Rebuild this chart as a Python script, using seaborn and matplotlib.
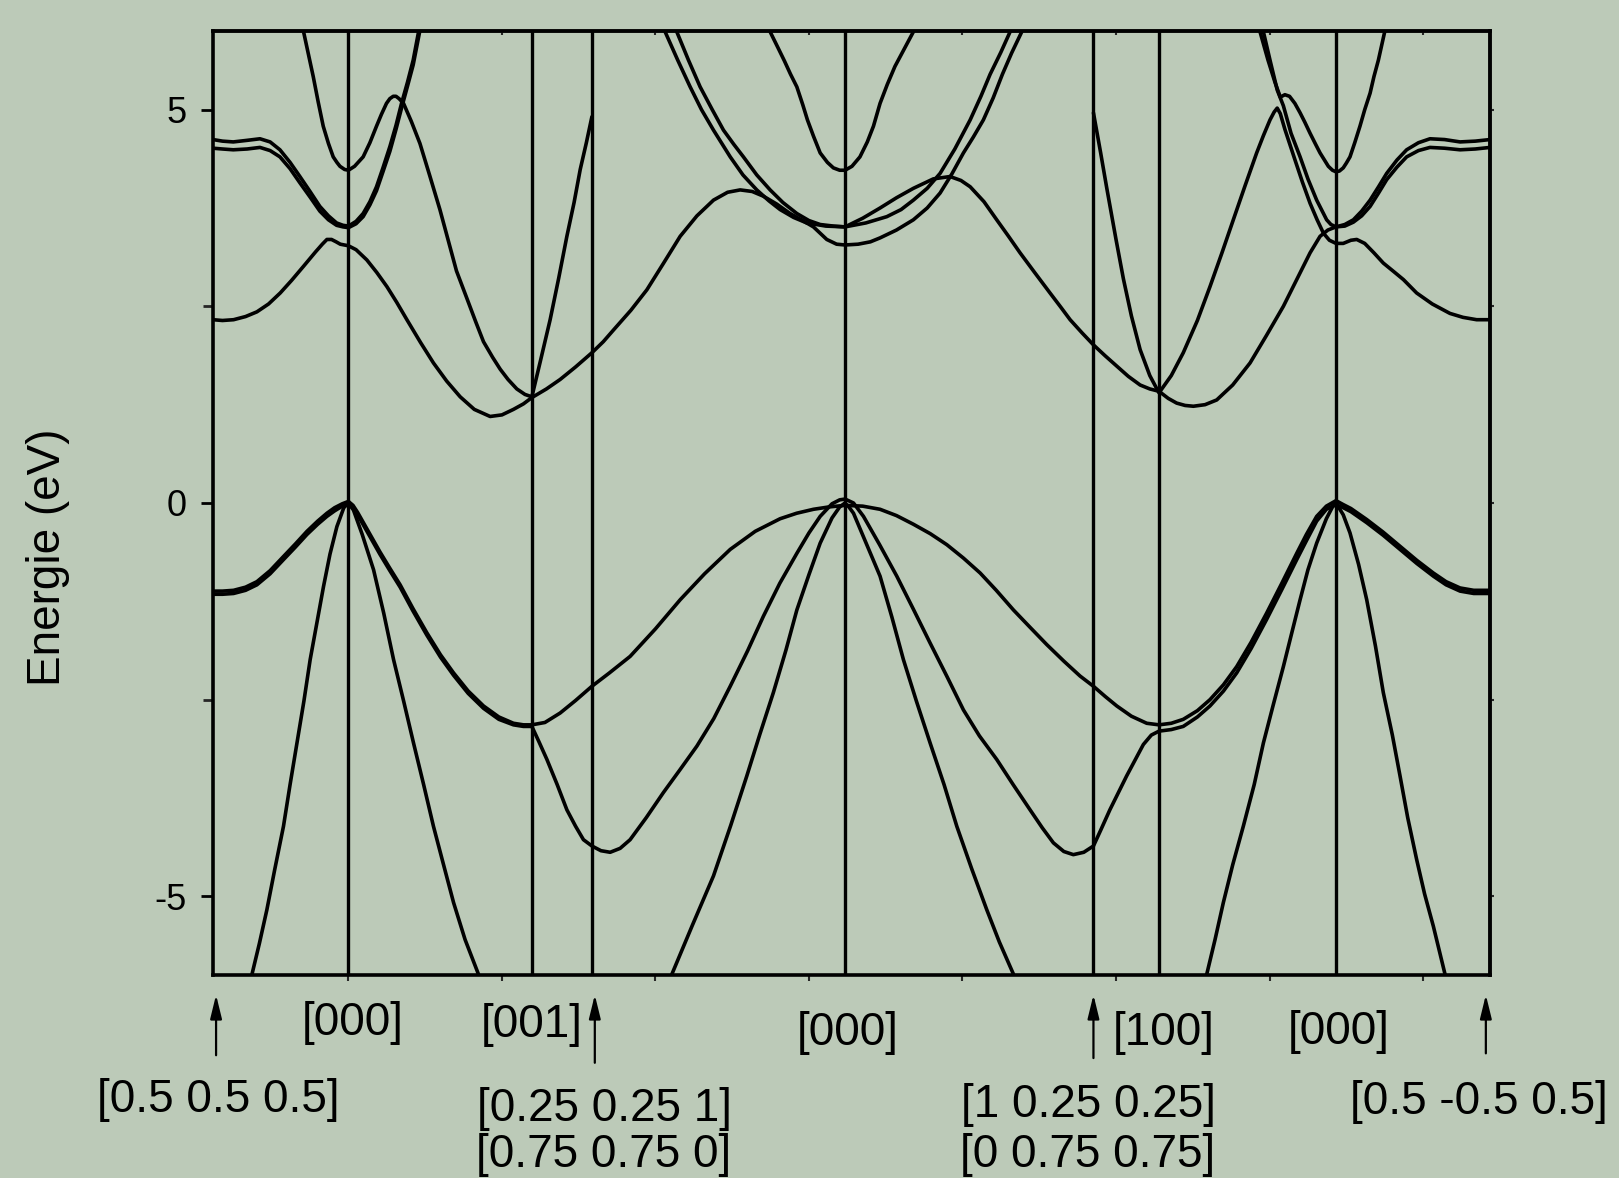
import pandas as pd
import matplotlib
matplotlib.use('Agg')
import matplotlib.pyplot as plt
import seaborn as sns

# positions of the symmetry points along the k path
sym_k = [-0.882, 0.0, 1.195, 1.586, 3.235, 4.853, 5.28, 6.433, 7.436]
y_ticks = [-5, 0, 5]
y_minor = [-2.5, 2.5]
x_ticks = [0, 1, 2, 3, 4, 5, 6, 7]

# valence bands (k, E in eV)
v_upper = [(-0.882, -1.12), (-0.82, -1.12), (-0.748, -1.11), (-0.67, -1.07), (-0.596, -1.00),
           (-0.51, -0.86), (-0.423, -0.68), (-0.345, -0.52), (-0.270, -0.36), (-0.20, -0.23),
           (-0.140, -0.13), (-0.09, -0.06), (-0.04, -0.01), (0.0, 0.02),
           (0.03, -0.03), (0.06, -0.12), (0.118, -0.32), (0.205, -0.62), (0.27, -0.83), (0.337, -1.04),
           (0.42, -1.34), (0.511, -1.65), (0.60, -1.93), (0.685, -2.16), (0.78, -2.39), (0.880, -2.58),
           (0.98, -2.72), (1.075, -2.80), (1.14, -2.82), (1.195, -2.82),
           (1.28, -2.79), (1.379, -2.67), (1.48, -2.51), (1.586, -2.33),
           (1.70, -2.16), (1.835, -1.95), (2.00, -1.60), (2.161, -1.23), (2.32, -0.90), (2.487, -0.59),
           (2.65, -0.36), (2.812, -0.20), (2.92, -0.13), (3.029, -0.08), (3.13, -0.05), (3.235, -0.03),
           (3.35, -0.04), (3.463, -0.08), (3.57, -0.16), (3.680, -0.27), (3.79, -0.39), (3.898, -0.53),
           (4.006, -0.70), (4.115, -0.89), (4.22, -1.11), (4.332, -1.36), (4.44, -1.58), (4.549, -1.80),
           (4.66, -2.01), (4.766, -2.20), (4.853, -2.33),
           (4.93, -2.46), (5.005, -2.58), (5.10, -2.71), (5.200, -2.80), (5.28, -2.82),
           (5.36, -2.80), (5.438, -2.75), (5.53, -2.64), (5.612, -2.50), (5.70, -2.31), (5.786, -2.08),
           (5.88, -1.77), (5.981, -1.40), (6.08, -1.02), (6.177, -0.64), (6.24, -0.40), (6.307, -0.17),
           (6.37, -0.04), (6.433, 0.03),
           (6.48, -0.02), (6.53, -0.07), (6.633, -0.21), (6.74, -0.37), (6.850, -0.55), (6.96, -0.73),
           (7.067, -0.89), (7.15, -1.00), (7.241, -1.08), (7.33, -1.11), (7.436, -1.11)]
v_lower = [(-0.882, -1.16), (-0.82, -1.16), (-0.748, -1.15), (-0.67, -1.11), (-0.596, -1.04),
           (-0.51, -0.90), (-0.423, -0.72), (-0.345, -0.56), (-0.270, -0.40), (-0.20, -0.27),
           (-0.140, -0.17), (-0.09, -0.10), (-0.04, -0.04), (0.0, -0.02),
           (0.03, -0.06), (0.06, -0.15), (0.118, -0.35), (0.205, -0.65), (0.27, -0.86), (0.337, -1.07),
           (0.42, -1.37), (0.511, -1.68), (0.60, -1.96), (0.685, -2.19), (0.78, -2.42), (0.880, -2.61),
           (0.98, -2.75), (1.075, -2.82), (1.14, -2.84), (1.195, -2.84),
           (1.24, -3.03), (1.293, -3.26), (1.36, -3.58), (1.423, -3.90), (1.48, -4.11), (1.531, -4.28),
           (1.586, -4.36),
           (1.645, -4.42), (1.705, -4.44), (1.77, -4.39), (1.835, -4.28), (1.94, -4.00), (2.052, -3.68),
           (2.16, -3.39), (2.270, -3.09), (2.38, -2.74), (2.487, -2.33), (2.60, -1.88), (2.703, -1.44),
           (2.81, -1.02), (2.921, -0.64), (3.00, -0.38), (3.073, -0.17), (3.150, -0.01), (3.20, 0.04),
           (3.235, 0.05),
           (3.29, 0.0), (3.355, -0.17), (3.46, -0.53), (3.572, -0.93), (3.68, -1.35), (3.789, -1.78),
           (3.90, -2.21), (4.006, -2.63), (4.11, -2.96), (4.223, -3.26), (4.33, -3.58), (4.440, -3.90),
           (4.52, -4.13), (4.592, -4.32), (4.66, -4.43), (4.722, -4.47), (4.79, -4.44), (4.853, -4.36),
           (4.90, -4.16), (4.960, -3.90), (5.069, -3.47), (5.178, -3.07), (5.23, -2.95), (5.28, -2.90),
           (5.36, -2.88), (5.438, -2.84), (5.53, -2.72), (5.612, -2.58), (5.70, -2.39), (5.786, -2.16),
           (5.88, -1.85), (5.981, -1.48), (6.08, -1.10), (6.177, -0.72), (6.24, -0.48), (6.307, -0.23),
           (6.37, -0.08), (6.433, -0.02),
           (6.48, -0.06), (6.53, -0.11), (6.633, -0.25), (6.74, -0.41), (6.850, -0.59), (6.96, -0.77),
           (7.067, -0.93), (7.15, -1.04), (7.241, -1.12), (7.33, -1.15), (7.436, -1.15)]
v_deep_1 = [(-0.628, -5.99), (-0.58, -5.60), (-0.531, -5.17), (-0.48, -4.66), (-0.423, -4.11),
            (-0.38, -3.58), (-0.335, -3.05), (-0.29, -2.52), (-0.249, -1.99), (-0.205, -1.52),
            (-0.162, -1.06), (-0.12, -0.65), (-0.075, -0.30), (-0.03, -0.06), (0.0, 0.0)]
v_deep_2 = [(0.0, 0.0), (0.033, -0.09), (0.09, -0.40), (0.164, -0.85), (0.23, -1.40), (0.294, -1.99),
            (0.36, -2.52), (0.424, -3.05), (0.49, -3.58), (0.554, -4.11), (0.62, -4.60), (0.685, -5.08),
            (0.76, -5.55), (0.847, -5.99)]
v_deep_3 = [(2.107, -5.99), (2.24, -5.37), (2.378, -4.74), (2.49, -4.10), (2.595, -3.47), (2.68, -2.94),
            (2.768, -2.41), (2.85, -1.87), (2.921, -1.36), (3.00, -0.91), (3.073, -0.51), (3.15, -0.19),
            (3.20, -0.05), (3.235, 0.0)]
v_deep_4 = [(3.235, 0.0), (3.26, -0.05), (3.290, -0.13), (3.37, -0.50), (3.463, -0.93), (3.54, -1.45),
            (3.615, -1.99), (3.70, -2.52), (3.789, -3.05), (3.88, -3.58), (3.963, -4.11), (4.06, -4.65),
            (4.158, -5.17), (4.24, -5.58), (4.332, -5.99)]
v_deep_5 = [(5.591, -5.99), (5.645, -5.55), (5.699, -5.08), (5.76, -4.60), (5.829, -4.11), (5.90, -3.58),
            (5.960, -3.05), (6.025, -2.56), (6.090, -2.08), (6.145, -1.65), (6.199, -1.23), (6.25, -0.85),
            (6.307, -0.51), (6.37, -0.20), (6.41, -0.05), (6.433, 0.0)]
v_deep_6 = [(6.433, 0.0), (6.48, -0.15), (6.524, -0.38), (6.58, -0.78), (6.633, -1.23), (6.69, -1.82),
            (6.741, -2.41), (6.80, -2.95), (6.850, -3.47), (6.90, -4.00), (6.958, -4.53), (7.01, -4.97),
            (7.067, -5.38), (7.143, -5.99)]

# conduction bands
c_1 = [(-0.882, 2.33), (-0.82, 2.32), (-0.748, 2.33), (-0.67, 2.37), (-0.596, 2.43), (-0.52, 2.53),
       (-0.444, 2.67), (-0.37, 2.83), (-0.292, 3.01), (-0.215, 3.19), (-0.170, 3.29), (-0.140, 3.35),
       (-0.11, 3.35), (-0.08, 3.32), (-0.053, 3.29), (0.0, 3.27),
       (0.05, 3.22), (0.120, 3.09), (0.185, 2.93), (0.251, 2.75), (0.315, 2.55), (0.381, 2.33),
       (0.47, 2.04), (0.554, 1.78), (0.64, 1.55), (0.728, 1.35), (0.82, 1.19), (0.923, 1.10),
       (1.00, 1.12), (1.075, 1.19), (1.14, 1.26), (1.195, 1.34),
       (1.29, 1.45), (1.379, 1.57), (1.48, 1.73), (1.586, 1.91),
       (1.66, 2.05), (1.727, 2.20), (1.84, 2.45), (1.944, 2.71), (2.05, 3.04), (2.161, 3.39),
       (2.27, 3.65), (2.378, 3.85), (2.47, 3.95), (2.552, 3.98), (2.63, 3.96), (2.703, 3.90),
       (2.79, 3.80), (2.877, 3.68), (2.95, 3.60), (3.029, 3.51), (3.116, 3.35), (3.18, 3.29),
       (3.235, 3.28),
       (3.32, 3.29), (3.40, 3.32), (3.463, 3.37), (3.57, 3.47), (3.680, 3.60), (3.77, 3.75),
       (3.854, 3.94), (3.93, 4.18), (4.006, 4.45), (4.07, 4.65), (4.136, 4.87), (4.20, 5.15),
       (4.26, 5.45), (4.32, 5.72), (4.386, 5.99)]
c_2 = [(2.139, 5.99), (2.215, 5.63), (2.291, 5.29), (2.37, 5.00), (2.443, 4.74), (2.51, 4.56),
       (2.573, 4.40), (2.66, 4.17), (2.747, 3.98), (2.83, 3.82), (2.921, 3.68), (3.00, 3.59),
       (3.073, 3.54), (3.16, 3.52), (3.235, 3.51),
       (3.35, 3.62), (3.463, 3.75), (3.57, 3.88), (3.680, 4.00), (3.81, 4.12), (3.919, 4.15),
       (3.99, 4.10), (4.050, 4.02), (4.14, 3.83), (4.223, 3.60), (4.30, 3.39), (4.375, 3.18),
       (4.47, 2.93), (4.570, 2.67), (4.64, 2.49), (4.701, 2.33), (4.78, 2.16), (4.853, 2.01),
       (4.93, 1.87), (5.005, 1.74), (5.08, 1.61), (5.157, 1.50), (5.22, 1.45), (5.28, 1.42),
       (5.34, 1.33), (5.395, 1.27), (5.45, 1.24), (5.504, 1.23), (5.58, 1.25), (5.656, 1.31),
       (5.76, 1.50), (5.873, 1.78), (5.98, 2.13), (6.090, 2.50), (6.177, 2.84), (6.264, 3.18),
       (6.329, 3.39), (6.38, 3.47), (6.433, 3.51),
       (6.49, 3.54), (6.546, 3.60), (6.60, 3.71), (6.655, 3.85), (6.71, 4.02), (6.763, 4.19),
       (6.83, 4.36), (6.893, 4.49), (6.97, 4.58), (7.045, 4.63), (7.14, 4.62), (7.241, 4.59),
       (7.34, 4.60), (7.436, 4.62)]
c_3 = [(5.96, 5.99), (6.003, 5.63), (6.05, 5.25), (6.09, 5.05), (6.14, 4.70), (6.199, 4.40),
       (6.25, 4.12), (6.307, 3.85), (6.372, 3.60), (6.40, 3.54), (6.433, 3.51),
       (6.49, 3.52), (6.546, 3.57), (6.60, 3.65), (6.655, 3.77), (6.71, 3.94), (6.763, 4.11),
       (6.83, 4.27), (6.893, 4.40), (6.97, 4.48), (7.045, 4.52), (7.14, 4.51), (7.241, 4.49),
       (7.34, 4.50), (7.436, 4.52)]
c_4 = [(4.853, 4.96), (4.90, 4.45), (4.94, 4.00), (5.00, 3.35), (5.048, 2.85), (5.10, 2.38),
       (5.157, 1.95), (5.22, 1.62), (5.28, 1.40),
       (5.36, 1.62), (5.438, 1.91), (5.53, 2.32), (5.612, 2.75), (5.69, 3.18), (5.764, 3.60),
       (5.84, 4.03), (5.916, 4.45), (5.96, 4.67), (6.003, 4.87), (6.03, 4.97), (6.05, 5.02),
       (6.07, 4.95), (6.10, 4.75), (6.166, 4.36), (6.214, 4.08), (6.264, 3.81), (6.31, 3.60),
       (6.351, 3.43), (6.39, 3.34), (6.433, 3.30),
       (6.48, 3.30), (6.53, 3.34), (6.568, 3.35), (6.62, 3.30), (6.68, 3.18), (6.741, 3.05),
       (6.81, 2.94), (6.872, 2.84), (6.958, 2.67), (7.06, 2.53), (7.175, 2.41), (7.26, 2.36),
       (7.349, 2.33), (7.436, 2.33)]
c_5 = [(5.938, 5.99), (5.99, 5.63), (6.035, 5.35), (6.07, 5.16), (6.10, 5.19), (6.13, 5.17),
       (6.165, 5.08), (6.199, 4.96), (6.23, 4.84), (6.264, 4.70), (6.30, 4.56), (6.329, 4.45),
       (6.383, 4.28), (6.41, 4.23), (6.433, 4.21), (6.455, 4.22), (6.480, 4.26), (6.50, 4.32),
       (6.524, 4.40), (6.555, 4.58), (6.589, 4.79), (6.62, 5.00), (6.655, 5.21), (6.68, 5.42),
       (6.709, 5.63), (6.750, 5.99)]
c_6 = [(-0.882, 4.62), (-0.82, 4.60), (-0.75, 4.59), (-0.66, 4.61), (-0.576, 4.63), (-0.51, 4.59),
       (-0.446, 4.49), (-0.38, 4.33), (-0.316, 4.15), (-0.25, 3.96), (-0.186, 3.77), (-0.13, 3.65),
       (-0.077, 3.56), (-0.035, 3.53), (0.0, 3.52),
       (0.05, 3.58), (0.096, 3.68), (0.14, 3.83), (0.183, 4.02), (0.225, 4.26), (0.270, 4.53),
       (0.31, 4.80), (0.346, 5.08), (0.385, 5.35), (0.422, 5.63), (0.457, 5.99)]
c_7 = [(-0.882, 4.51), (-0.82, 4.50), (-0.75, 4.49), (-0.66, 4.50), (-0.576, 4.52), (-0.51, 4.48),
       (-0.446, 4.40), (-0.38, 4.25), (-0.316, 4.07), (-0.25, 3.89), (-0.186, 3.71), (-0.13, 3.60),
       (-0.077, 3.53), (-0.035, 3.51), (0.0, 3.50),
       (0.05, 3.55), (0.096, 3.64), (0.14, 3.79), (0.183, 3.97), (0.225, 4.21), (0.270, 4.47),
       (0.31, 4.75), (0.346, 5.02), (0.385, 5.30), (0.422, 5.57), (0.464, 5.99)]
c_8 = [(-0.292, 5.99), (-0.26, 5.70), (-0.229, 5.42), (-0.197, 5.10), (-0.164, 4.79), (-0.13, 4.57),
       (-0.099, 4.40), (-0.075, 4.33), (-0.055, 4.28), (-0.025, 4.24), (0.0, 4.23),
       (0.04, 4.28), (0.096, 4.40), (0.14, 4.58), (0.183, 4.79), (0.215, 4.94), (0.248, 5.08),
       (0.27, 5.14), (0.292, 5.17), (0.31, 5.17), (0.33, 5.14), (0.359, 5.08), (0.41, 4.85),
       (0.466, 4.57), (0.53, 4.16), (0.596, 3.73), (0.65, 3.34), (0.704, 2.95), (0.772, 2.60),
       (0.83, 2.30), (0.880, 2.05), (0.94, 1.85), (0.989, 1.70), (1.04, 1.57), (1.097, 1.45),
       (1.15, 1.38), (1.195, 1.35),
       (1.25, 1.80), (1.314, 2.33), (1.37, 2.86), (1.423, 3.39), (1.47, 3.82), (1.510, 4.24),
       (1.55, 4.58), (1.586, 4.91)]
c_9 = [(2.063, 5.99), (2.145, 5.63), (2.226, 5.29), (2.30, 5.00), (2.378, 4.74), (2.487, 4.40),
       (2.57, 4.17), (2.660, 3.98), (2.74, 3.84), (2.812, 3.73), (2.90, 3.63), (2.986, 3.56),
       (3.11, 3.52), (3.235, 3.51),
       (3.37, 3.56), (3.507, 3.64), (3.60, 3.73), (3.680, 3.85), (3.77, 4.00), (3.854, 4.19),
       (3.95, 4.50), (4.050, 4.87), (4.12, 5.17), (4.18, 5.45), (4.25, 5.73), (4.310, 5.99)]
c_10 = [(2.747, 5.99), (2.80, 5.78), (2.84, 5.62), (2.88, 5.45), (2.921, 5.29), (2.96, 5.06),
        (2.99, 4.87), (3.03, 4.66), (3.073, 4.45), (3.12, 4.33), (3.159, 4.26), (3.20, 4.23),
        (3.235, 4.23), (3.28, 4.28), (3.332, 4.40), (3.38, 4.59), (3.420, 4.79), (3.463, 5.08),
        (3.51, 5.32), (3.56, 5.55), (3.62, 5.77), (3.680, 5.99)]

curves = {
    'v_upper': v_upper, 'v_lower': v_lower,
    'v_deep_1': v_deep_1, 'v_deep_2': v_deep_2, 'v_deep_3': v_deep_3,
    'v_deep_4': v_deep_4, 'v_deep_5': v_deep_5, 'v_deep_6': v_deep_6,
    'c_1': c_1, 'c_2': c_2, 'c_3': c_3, 'c_4': c_4, 'c_5': c_5,
    'c_6': c_6, 'c_7': c_7, 'c_8': c_8, 'c_9': c_9, 'c_10': c_10,
}
df = pd.concat([pd.DataFrame(pts, columns=['k', 'E']).assign(curve=name)
                for name, pts in curves.items()], ignore_index=True)

# labels below the axis (figure pixels)
top_labels = [('[000]', 353, 1023), ('[001]', 532, 1025), ('[000]', 848, 1033),
              ('[100]', 1164, 1033), ('[000]', 1339, 1032)]
bottom_labels = [('[0.5 0.5 0.5]', 218, 1100), ('[0.25 0.25 1]', 604, 1109),
                 ('[0.75 0.75 0]', 604, 1155), ('[1 0.25 0.25]', 1088, 1105),
                 ('[0 0.75 0.75]', 1088, 1155), ('[0.5 -0.5 0.5]', 1479, 1102)]
arrow_k = [-0.862, 1.605, 4.853, 7.409]
arrow_tail = [-0.085, -0.093, -0.088, -0.083]

bg = '#bccab8'
W, H = 1619, 1178

sns.set_theme(style='ticks')
plt.rcParams['font.family'] = ['Liberation Sans', 'DejaVu Sans']
plt.rcParams['axes.unicode_minus'] = False

fig = plt.figure(figsize=(W / 100, H / 100), dpi=100, facecolor=bg)
ax = fig.add_axes([213 / W, 1 - 975 / H, (1490 - 213) / W, (975 - 31) / H])
ax.set_facecolor(bg)

sns.lineplot(data=df, x='k', y='E', units='curve', estimator=None, sort=False,
             color='black', linewidth=2.6, legend=False, ax=ax)

for k in sym_k[1:-1]:
    ax.axvline(k, color='black', linewidth=2.4, zorder=1)

ax.set_xlim(sym_k[0], sym_k[-1])
ax.set_ylim(-6, 6)
ax.set_xlabel('')
ax.set_ylabel('')
for s in ax.spines.values():
    s.set_linewidth(2.6)
    s.set_color('black')

ax.set_yticks(y_ticks)
ax.set_yticklabels([str(v) for v in y_ticks])
ax.set_yticks(y_minor, minor=True)
ax.tick_params(axis='y', which='major', length=9, width=2, labelsize=26, pad=10, colors='black')
ax.tick_params(axis='y', which='minor', length=7, width=2)
ax.set_xticks(x_ticks)
ax.set_xticklabels([])
ax.tick_params(axis='x', which='major', length=4, width=1.5, direction='out')

sec_r = ax.secondary_yaxis('right')
sec_r.set_yticks(y_ticks + y_minor)
sec_r.set_yticklabels([])
sec_r.tick_params(length=3, width=1.5, direction='out')
sec_r.spines['right'].set_linewidth(2.6)
sec_t = ax.secondary_xaxis('top')
sec_t.set_xticks(x_ticks)
sec_t.set_xticklabels([])
sec_t.tick_params(length=3, width=1.5, direction='in')
sec_t.spines['top'].set_linewidth(2.6)

for k, tail in zip(arrow_k, arrow_tail):
    ax.annotate('', xy=(k, -0.021), xytext=(k, tail), xycoords=ax.get_xaxis_transform(),
                textcoords=ax.get_xaxis_transform(), annotation_clip=False,
                arrowprops=dict(arrowstyle='-|>,head_length=0.9,head_width=0.22',
                                color='black', lw=1.6, mutation_scale=16, shrinkA=0, shrinkB=0))

for txt, px, py in top_labels + bottom_labels:
    fig.text(px / W, 1 - py / H, txt, ha='center', va='center', fontsize=33, color='black')

fig.text(48 / W, 1 - 557 / H, 'Energie (eV)', rotation=90, ha='center', va='center',
         fontsize=33, color='black')

fig.savefig('out.png', dpi=100, facecolor=bg)
